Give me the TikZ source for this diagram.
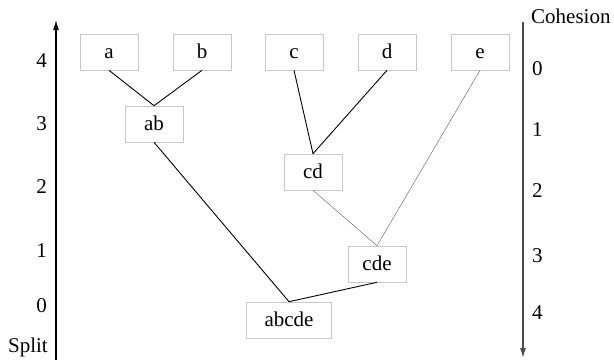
\documentclass[tikz,border=0pt]{standalone}
\usepackage{fontspec}
\setmainfont{Liberation Serif}
\usetikzlibrary{arrows.meta, positioning}

\begin{document}
\begin{tikzpicture}[x=1pt, y=-1pt,
    box/.style={draw=black!22, line width=0.6pt, minimum width=58pt, minimum height=36pt, inner sep=0pt, text height=14pt, text depth=2pt, font=\fontsize{21}{24}\selectfont},
    tick/.style={font=\fontsize{21}{24}\selectfont, inner sep=0pt},
    merge/.style={line width=0.9pt},
    weak/.style={line width=0.4pt, black!65}]
    \useasboundingbox (0,0) rectangle (614,362);

    % Leaves
    \node[box] (a) at (109,52) {a};
    \node[box] (b) at (202,52) {b};
    \node[box] (c) at (294,52) {c};
    \node[box] (d) at (387,52) {d};
    \node[box] (e) at (480,52) {e};

    % Clusters
    \node[box] (ab) at (154,124) {ab};
    \node[box] (cd) at (313,172) {cd};
    \node[box] (cde) at (377,264) {cde};
    \node[box, minimum width=85pt] (abcde) at (289,320) {abcde};

    % Links
    \draw[merge] (a.south) -- (ab.north);
    \draw[merge] (b.south) -- (ab.north);
    \draw[merge] (c.south) -- (cd.north);
    \draw[merge] (d.south) -- (cd.north);
    \draw[weak] (e.south) -- (cde.north);
    \draw[weak] (cd.south) -- (cde.north);
    \draw[merge] (ab.south) -- (abcde.north);
    \draw[merge] (cde.south) -- (abcde.north);

    % Split axis
    \coordinate (s0) at (56,360);
    \coordinate (s1) at (56,20);
    \draw[-{Latex[length=10pt, width=6pt]}, line width=1.2pt] (s0) -- (s1);
    \foreach \v/\y in {4/61, 3/124, 2/187, 1/251, 0/306}
        \node[tick, anchor=east] (split\v) at (47,\y) {\v};
    \node[tick, anchor=east] (splitlabel) at (48,347) {Split};

    % Cohesion axis
    \coordinate (c0) at (523,22);
    \coordinate (c1) at (523,358);
    \draw[-{Latex[length=10pt, width=6pt]}, line width=1.2pt, black!70] (c0) -- (c1);
    \foreach \v/\y in {0/69, 1/130, 2/191, 3/256, 4/313}
        \node[tick, anchor=west] (coh\v) at (532,\y) {\v};
    \node[tick, anchor=west] (cohlabel) at (531,16) {Cohesion};
\end{tikzpicture}
\end{document}
